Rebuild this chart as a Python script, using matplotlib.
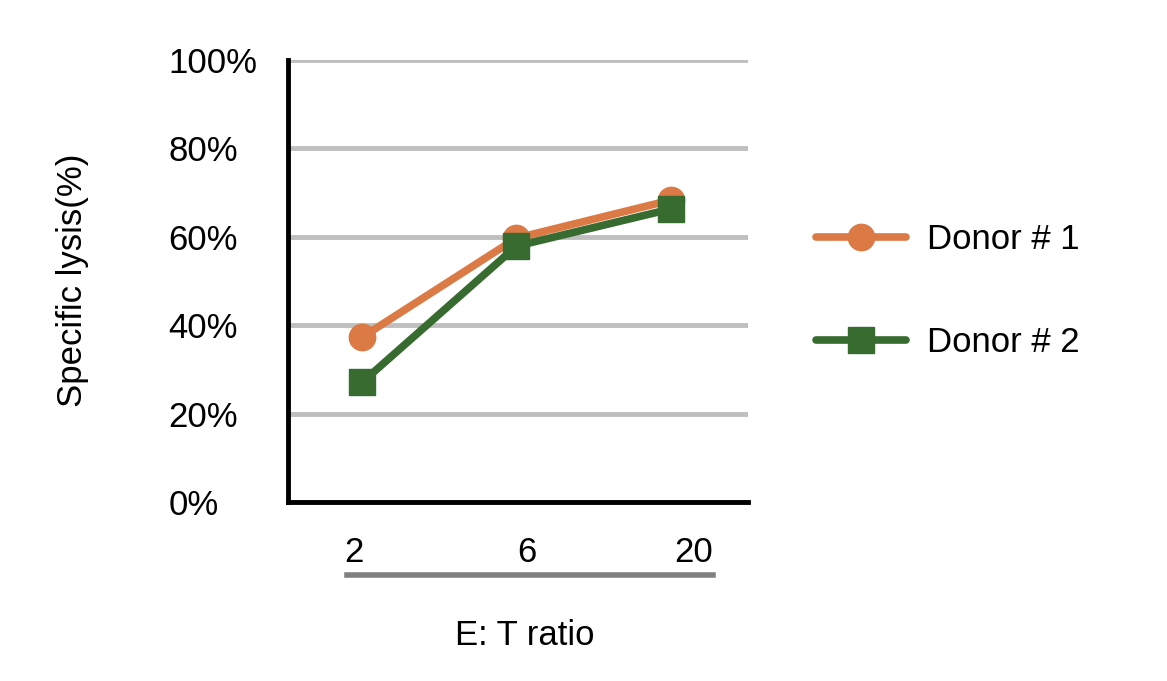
import numpy as np
import matplotlib.pyplot as plt
from matplotlib.lines import Line2D
from matplotlib.ticker import PercentFormatter

plt.rcParams['font.family'] = ['Liberation Sans', 'DejaVu Sans']

ratios = ["2", "6", "20"]
donor1 = [37.3, 59.7, 68.3]
donor2 = [27.1, 57.9, 66.3]
yticks = [0, 20, 40, 60, 80, 100]

orange = '#dc7a45'
green = '#376b30'
fs = 25

fig = plt.figure(figsize=(11.67, 6.81), dpi=100)
ax = fig.add_axes([0.2468, 0.2628, 0.3942, 0.6491])

x = np.arange(len(ratios))
ax.plot(x, donor1, color=orange, lw=5.5, marker='o', ms=19, solid_capstyle='round',
        label='Donor # 1', zorder=3)
ax.plot(x, donor2, color=green, lw=5.5, marker='s', ms=19, solid_capstyle='round',
        label='Donor # 2', zorder=4)

ax.set_xlim(-0.48, 2.5)
ax.set_ylim(0, 100)
ax.set_yticks(yticks)
ax.yaxis.set_major_formatter(PercentFormatter(decimals=0))
ax.grid(axis='y', color='#bfbfbf', lw=3.5)
ax.set_axisbelow(True)

for s in ['top', 'right']:
    ax.spines[s].set_visible(False)
for s in ['left', 'bottom']:
    ax.spines[s].set_linewidth(3.5)
    ax.spines[s].set_color('black')

# y labels are left aligned, well away from the axis
ax.tick_params(axis='y', length=0, pad=86, labelsize=fs)
for lab in ax.get_yticklabels():
    lab.set_horizontalalignment('left')

# category labels sit slightly off the points, like the original
ax.set_xticks([])
offsets = [-0.05, 0.07, 0.15]
for i, r in enumerate(ratios):
    ax.text(i + offsets[i], -11.5, r, ha='center', va='center', fontsize=fs,
            transform=ax.transData, clip_on=False)
fig.add_artist(Line2D([0.2973, 0.611], [0.1557, 0.1557], color='#808080', lw=4))

fig.text(0.062, 0.589, 'Specific lysis(%)', rotation=90, ha='center', va='center', fontsize=fs)
fig.text(0.45, 0.067, 'E: T ratio', ha='center', va='center', fontsize=fs)

ax.legend(loc='center left', bbox_to_anchor=(1.08, 0.477), frameon=False, fontsize=fs,
          handlelength=2.6, labelspacing=2.0, handletextpad=0.6)

fig.savefig('out.png', dpi=100)
